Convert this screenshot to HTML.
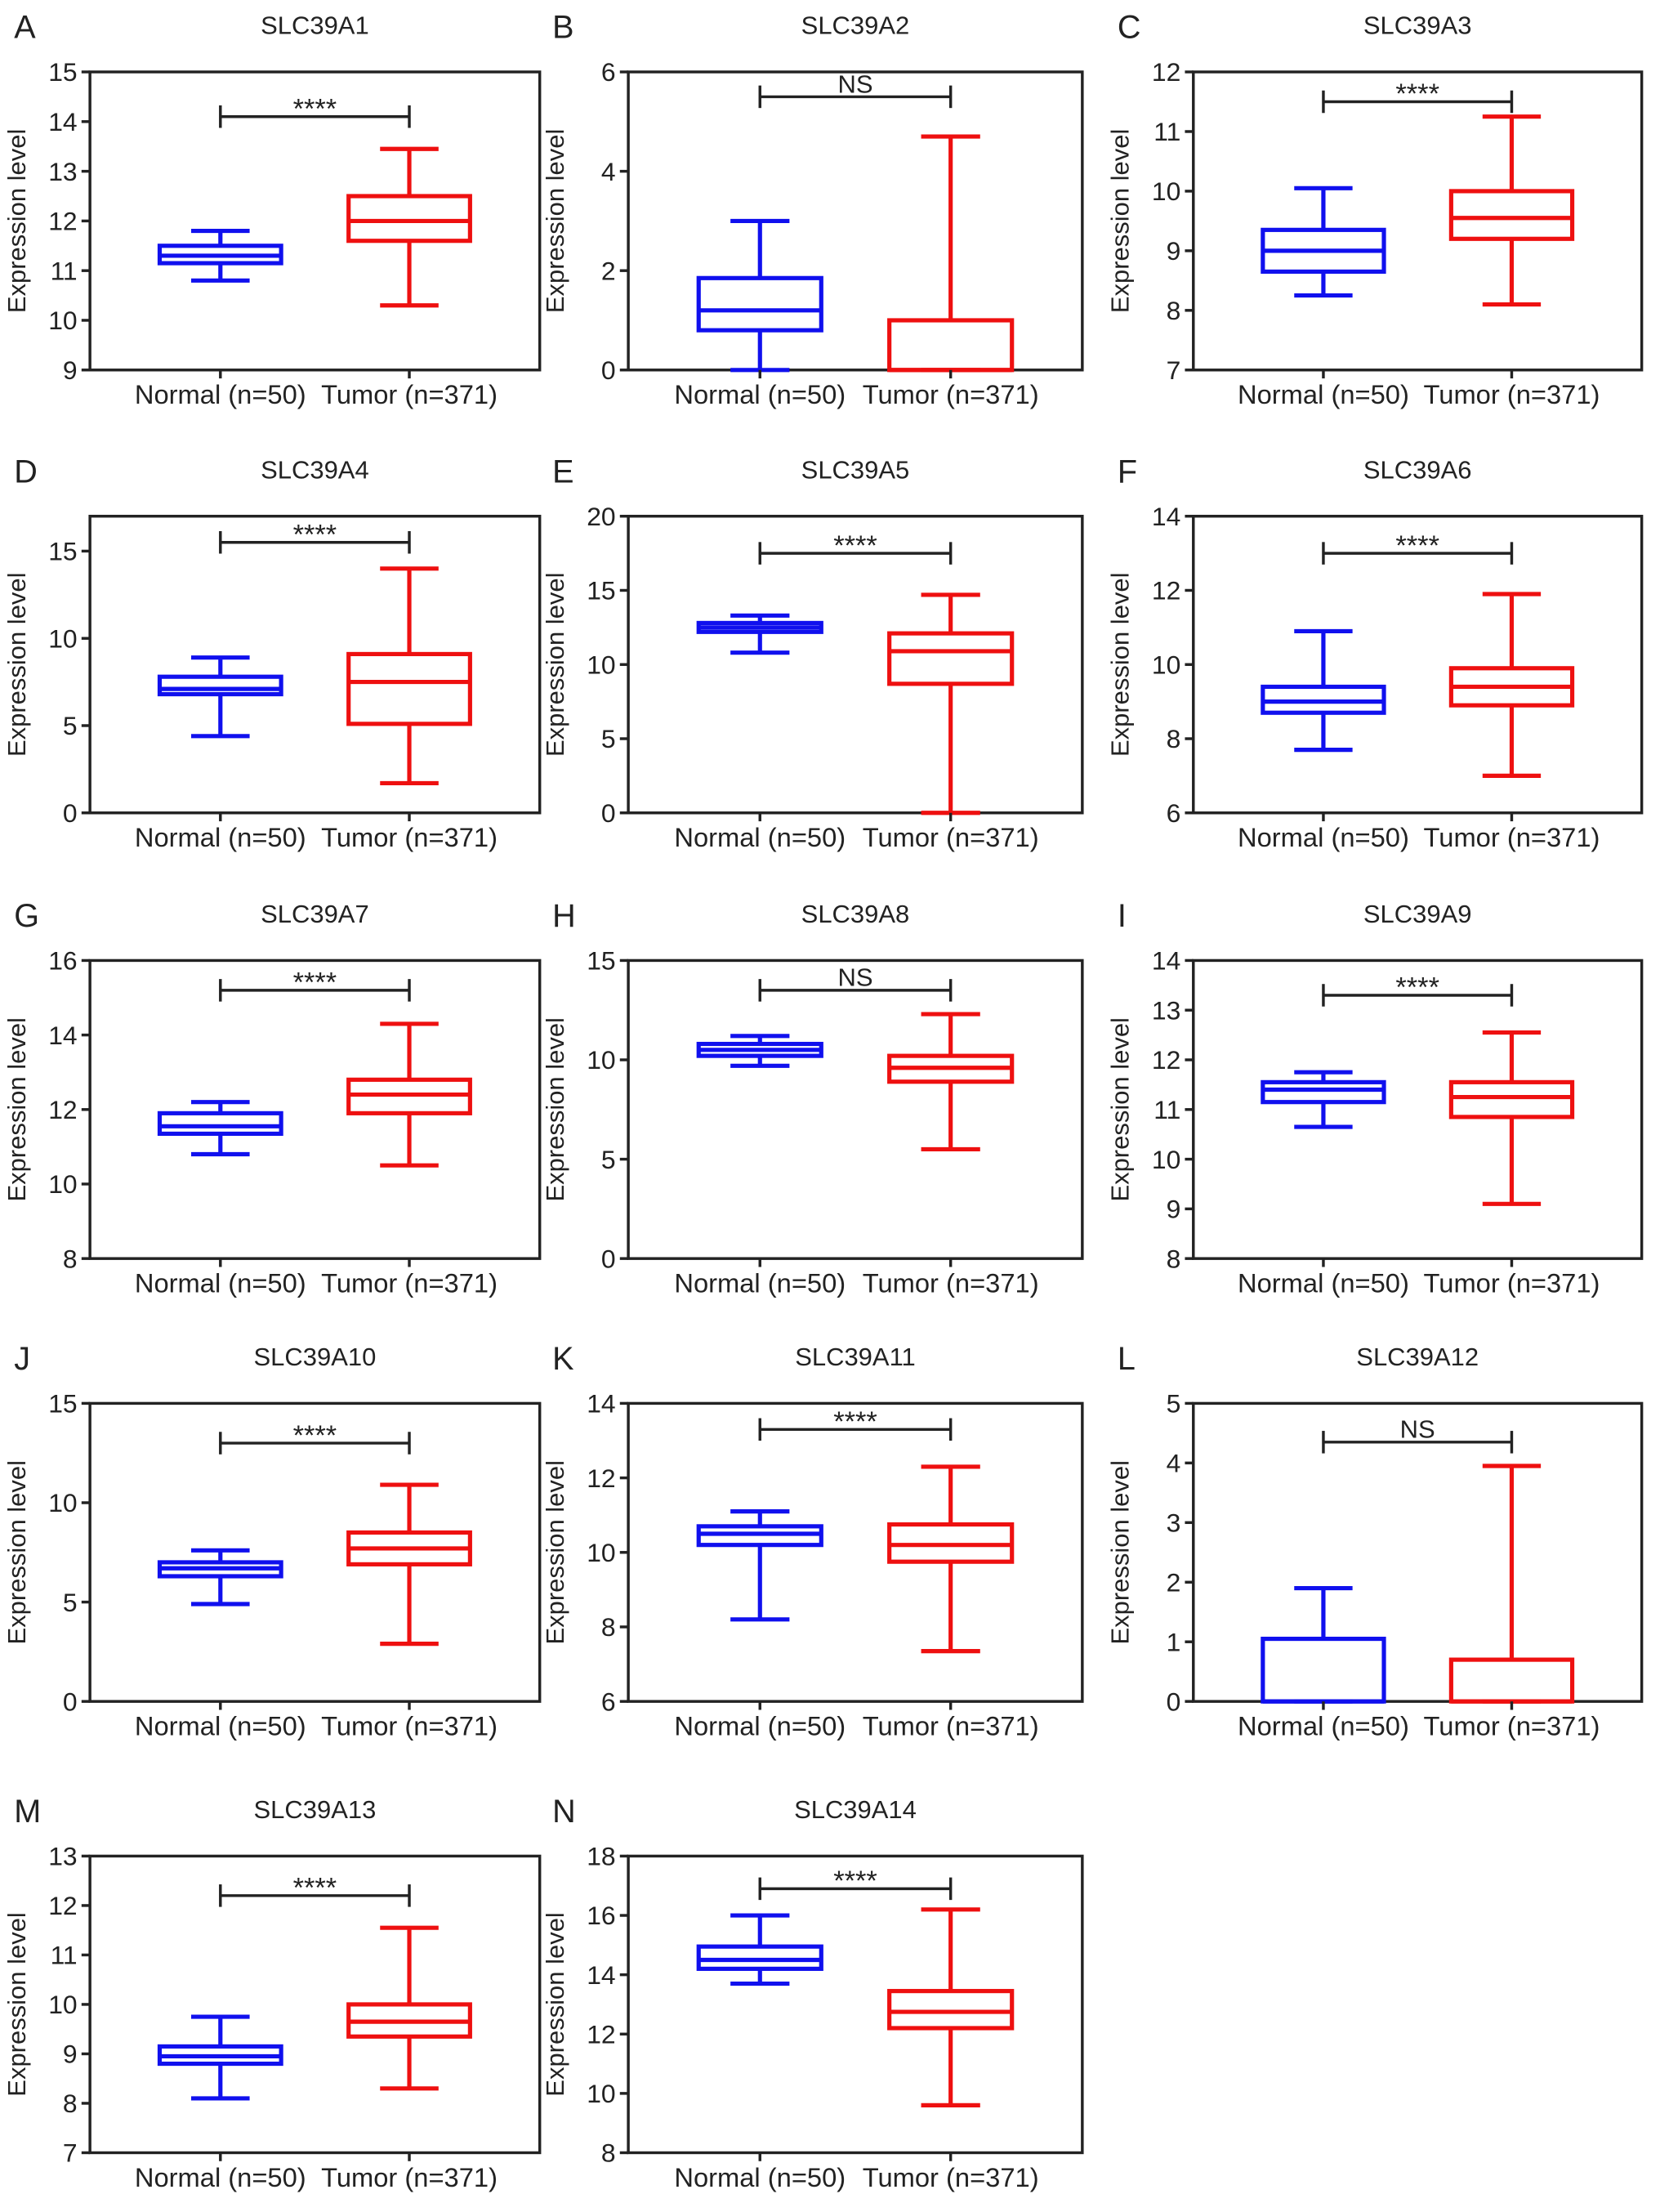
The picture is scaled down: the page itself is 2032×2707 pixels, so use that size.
<!DOCTYPE html>
<html><head><meta charset="utf-8"><style>
html,body{margin:0;padding:0;background:#fff}
svg{display:block}
text{font-family:"Liberation Sans",Arial,sans-serif;fill:#222}
</style></head><body>
<svg id="fig" width="2032" height="2707" viewBox="0 0 1181 1573" xmlns="http://www.w3.org/2000/svg"></svg>
<script>
const letters=["A","B","C","D","E","F","G","H","I","J","K","L","M","N"];
const genes=["SLC39A1","SLC39A2","SLC39A3","SLC39A4","SLC39A5","SLC39A6","SLC39A7","SLC39A8","SLC39A9","SLC39A10","SLC39A11","SLC39A12","SLC39A13","SLC39A14"];
const yMin=[9,0,7,0,0,6,8,0,8,0,6,0,7,8];
const yMax=[15,6,12,17,20,14,16,15,14,15,14,5,13,18];
const yStep=[1,2,1,5,5,2,2,5,1,5,2,1,1,2];
const categories=["Normal (n=50)","Tumor (n=371)"];
// [min,q1,median,q3,max]
const normalStats=[[10.8,11.15,11.3,11.5,11.8],[0,0.8,1.2,1.85,3.0],[8.25,8.65,9.0,9.35,10.05],[4.4,6.8,7.1,7.8,8.9],[10.8,12.2,12.5,12.8,13.3],[7.7,8.7,9.0,9.4,10.9],[10.8,11.35,11.55,11.9,12.2],[9.7,10.2,10.5,10.8,11.2],[10.65,11.15,11.4,11.55,11.75],[4.9,6.3,6.7,7.0,7.6],[8.2,10.2,10.5,10.7,11.1],[0,0,0,1.05,1.9],[8.1,8.8,8.95,9.15,9.75],[13.7,14.2,14.5,14.95,16.0]];
const tumorStats=[[10.3,11.6,12.0,12.5,13.45],[0,0,0,1.0,4.7],[8.1,9.2,9.55,10.0,11.25],[1.7,5.1,7.5,9.1,14.0],[0,8.7,10.9,12.1,14.7],[7.0,8.9,9.4,9.9,11.9],[10.5,11.9,12.4,12.8,14.3],[5.5,8.9,9.6,10.2,12.3],[9.1,10.85,11.25,11.55,12.55],[2.9,6.9,7.7,8.5,10.9],[7.35,9.75,10.2,10.75,12.3],[0,0,0,0.7,3.95],[8.3,9.35,9.65,10.0,11.55],[9.6,12.2,12.75,13.45,16.2]];
const bracketY=[14.1,5.5,11.5,15.5,17.5,13.0,15.2,13.5,13.3,13.0,13.3,4.35,12.2,16.9];
const sigLabel=["****","NS","****","****","****","****","****","NS","****","****","****","NS","****","****"];

const svg=document.getElementById('fig');
const NS="http://www.w3.org/2000/svg";
function mk(tag,attrs,parent,name,inter){const e=document.createElementNS(NS,tag);for(const k in attrs)e.setAttribute(k,attrs[k]);


parent.appendChild(e);return e;}
const colX=[[64,384],[447,770],[849,1168]];
const rowY=[[51,263],[367,578],[683,895],[998,1210],[1320,1531]];
for(let i=0;i<14;i++){
  const r=Math.floor(i/3),c=i%3;
  const L=colX[c][0],R=colX[c][1],T=rowY[r][0],B=rowY[r][1];
  const g=mk('g',{},svg,'panel-'+letters[i].toLowerCase());
  const y=v=>B-(v-yMin[i])/(yMax[i]-yMin[i])*(B-T);
  const W=R-L;
  const x=k=>L+W*(k===0?0.29:0.71);
  const t1=mk('text',{x:L-54,y:T-24,'font-size':23},g,'panel-letter');t1.textContent=letters[i];
  const t2=mk('text',{x:(L+R)/2,y:T-27,'font-size':18,'text-anchor':'middle'},g,'panel-title');t2.textContent=genes[i];
  const yt=mk('text',{transform:`translate(${L-46},${(T+B)/2}) rotate(-90)`,'font-size':18,'text-anchor':'middle'},g,'y-axis-title');yt.textContent="Expression level";
  for(let v=yMin[i];v<=yMax[i]+1e-9;v+=yStep[i]){
    mk('line',{x1:L-6,x2:L,y1:y(v),y2:y(v),stroke:'#222','stroke-width':2},g,'y-tick');
    const tl=mk('text',{x:L-9,y:y(v)+6.5,'font-size':18.5,'text-anchor':'end'},g,'y-tick-label');tl.textContent=v;
  }
  mk('rect',{x:L,y:T,width:W,height:B-T,fill:'none',stroke:'#222','stroke-width':2},g,'plot-frame');
  const stats=[normalStats[i],tumorStats[i]];const cols=['#1010ee','#ee1010'];
  for(let k=0;k<2;k++){
    const s=stats[k],cx=x(k),bw=W*0.27/2,cw=W*0.13/2;
    const bg=mk('g',{stroke:cols[k],'stroke-width':3,fill:'none'},g,k?'tumor-box':'normal-box');
    mk('line',{x1:cx,x2:cx,y1:y(s[0]),y2:y(s[1])},bg,'lower-whisker');
    mk('line',{x1:cx,x2:cx,y1:y(s[3]),y2:y(s[4])},bg,'upper-whisker');
    mk('line',{x1:cx-cw,x2:cx+cw,y1:y(s[0]),y2:y(s[0])},bg,'min-cap');
    mk('line',{x1:cx-cw,x2:cx+cw,y1:y(s[4]),y2:y(s[4])},bg,'max-cap');
    mk('rect',{x:cx-bw,y:y(s[3]),width:2*bw,height:Math.max(0,y(s[1])-y(s[3]))},bg,'iqr-box');
    mk('line',{x1:cx-bw,x2:cx+bw,y1:y(s[2]),y2:y(s[2])},bg,'median-line');
    mk('line',{x1:cx,x2:cx,y1:B,y2:B+6,stroke:'#222','stroke-width':2},g,'x-tick');
    const xl=mk('text',{x:cx,y:B+24,'font-size':19,'text-anchor':'middle'},g,'x-tick-label');xl.textContent=categories[k];
  }
  const by=y(bracketY[i]);
  const br=mk('g',{stroke:'#222','stroke-width':2},g,'significance-bracket');
  mk('line',{x1:x(0),x2:x(1),y1:by,y2:by},br,'bracket-line');
  mk('line',{x1:x(0),x2:x(0),y1:by-8,y2:by+8},br,'bracket-left');
  mk('line',{x1:x(1),x2:x(1),y1:by-8,y2:by+8},br,'bracket-right');
  const st=mk('text',{x:(x(0)+x(1))/2,y:sigLabel[i]==="NS"?by-3:by+1,'font-size':sigLabel[i]==="NS"?18:20,'text-anchor':'middle'},g,'significance-label');st.textContent=sigLabel[i];
}
</script>
</body></html>
